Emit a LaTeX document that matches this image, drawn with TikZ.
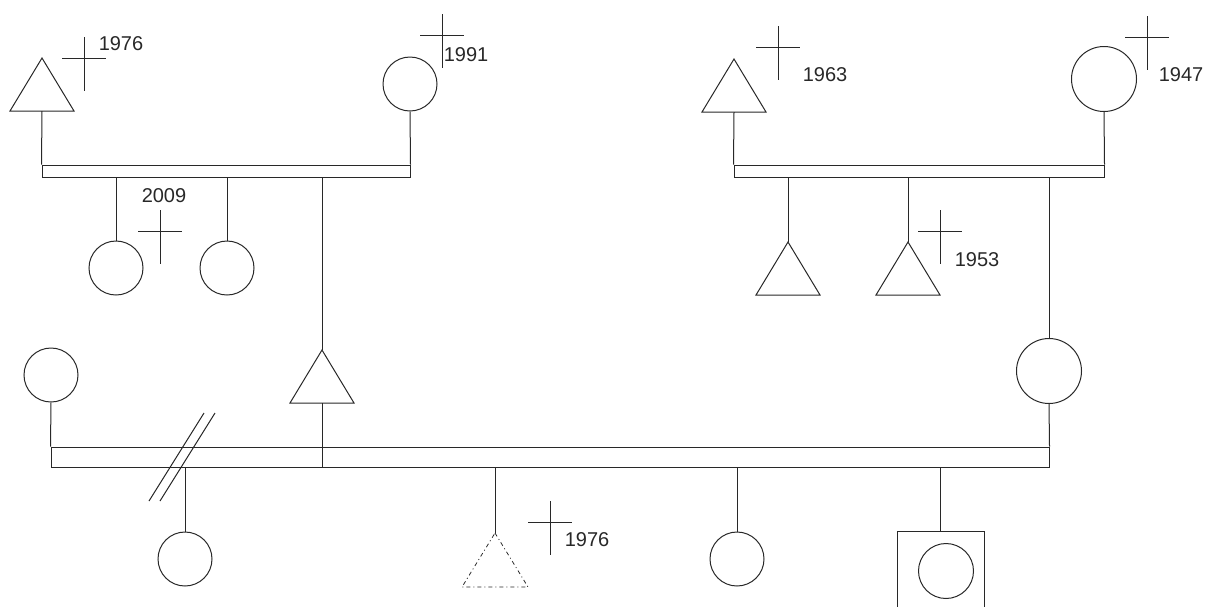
\documentclass[tikz,border=0pt]{standalone}
\usepackage{fontspec}
\setmainfont{Liberation Sans}
\definecolor{lc}{RGB}{40,40,40}
\begin{document}
\begin{tikzpicture}[x=1pt,y=-1pt,line width=1pt,color=lc,
  person/.style={circle,draw,inner sep=0pt,minimum size=54pt},
  bigperson/.style={circle,draw,inner sep=0pt,minimum size=65pt},
  bar/.style={rectangle,draw,inner sep=0pt},
  lbl/.style={inner sep=0pt,font=\fontsize{20}{24}\selectfont},
  tri/.pic={\draw (0,0) -- (32,53) -- (-32,53) -- cycle;
            \coordinate (-apex) at (0,0); \coordinate (-base) at (0,53);},
  dtri/.pic={\draw[line width=0.8pt,dash pattern=on 4pt off 3pt on 1pt off 3pt] (0,0) -- (33,54) -- (-33,54) -- cycle;
            \coordinate (-apex) at (0,0); \coordinate (-base) at (0,54);},
  dagger/.pic={\draw (0,-21) -- (0,33) (-22,0) -- (22,0);}
]
\useasboundingbox (0,0) rectangle (1212,606);
\clip (0,0) rectangle (1212,606);

% ---- top-left family
\pic (t1) at (42,58) {tri};
\node[person] (ctl) at (410,84) {};
\node[bar,minimum width=368pt,minimum height=12pt] (bar1) at (226,171) {};
\draw (t1-base) -- (bar1.north west);
\draw (ctl.south) -- (bar1.north east);
\node[person] (ch1) at (116,268) {};
\node[person] (ch2) at (227,268) {};
\draw (bar1.south -| ch1.north) -- (ch1.north);
\draw (bar1.south -| ch2.north) -- (ch2.north);
\pic (tm) at (322,350) {tri};
\draw (bar1.south -| tm-apex) -- (tm-apex);

% ---- top-right family
\pic (t2) at (734,59) {tri};
\node[bigperson] (ctr) at (1104,79) {};
\node[bar,minimum width=370pt,minimum height=12pt] (bar2) at (919,171) {};
\draw (t2-base) -- (bar2.north west);
\draw (ctr.south) -- (bar2.north east);
\pic (t3) at (788,242) {tri};
\pic (t4) at (908,242) {tri};
\draw (bar2.south -| t3-apex) -- (t3-apex);
\draw (bar2.south -| t4-apex) -- (t4-apex);
\node[bigperson] (cbig) at (1049,371) {};
\draw (bar2.south -| cbig.north) -- (cbig.north);

% ---- bottom family
\node[person] (cl) at (51,375) {};
\node[bar,minimum width=998pt,minimum height=20pt] (bar3) at (550,457) {};
\draw (cl.south) -- (bar3.north west);
\draw (cbig.south) -- (bar3.north east);
\draw (tm-base) -- (bar3.south -| tm-base);
\coordinate (sl) at (182,457);
\draw ([shift={(-33,44)}]sl) -- ([shift={(22,-44)}]sl);
\draw ([shift={(-22,44)}]sl) -- ([shift={(33,-44)}]sl);

\node[person] (cb1) at (185,559) {};
\draw (bar3.south -| cb1.north) -- (cb1.north);
\pic (t5) at (495,533) {dtri};
\draw (bar3.south -| t5-apex) -- (t5-apex);
\node[person] (cb2) at (737,559) {};
\draw (bar3.south -| cb2.north) -- (cb2.north);
\node[rectangle,draw,inner sep=0pt,minimum width=87pt,minimum height=140pt,anchor=north] (sq) at (940.5,531) {};
\node[person,minimum size=55pt] (csq) at (946,571) {};
\draw (bar3.south -| sq.north) -- (sq.north);

% ---- death marks and years
\pic at (84,58) {dagger};
\node[lbl] (y1) at (121,44) {1976};
\pic at (442,35) {dagger};
\node[lbl] (y2) at (466,55) {1991};
\pic at (160,231) {dagger};
\node[lbl] (y3) at (164,196) {2009};
\pic at (778,47) {dagger};
\node[lbl] (y4) at (825,75) {1963};
\pic at (1147,37) {dagger};
\node[lbl] (y5) at (1181,75) {1947};
\pic at (940,231) {dagger};
\node[lbl] (y6) at (977,260) {1953};
\pic at (550,522) {dagger};
\node[lbl] (y7) at (587,540) {1976};
\end{tikzpicture}
\end{document}
